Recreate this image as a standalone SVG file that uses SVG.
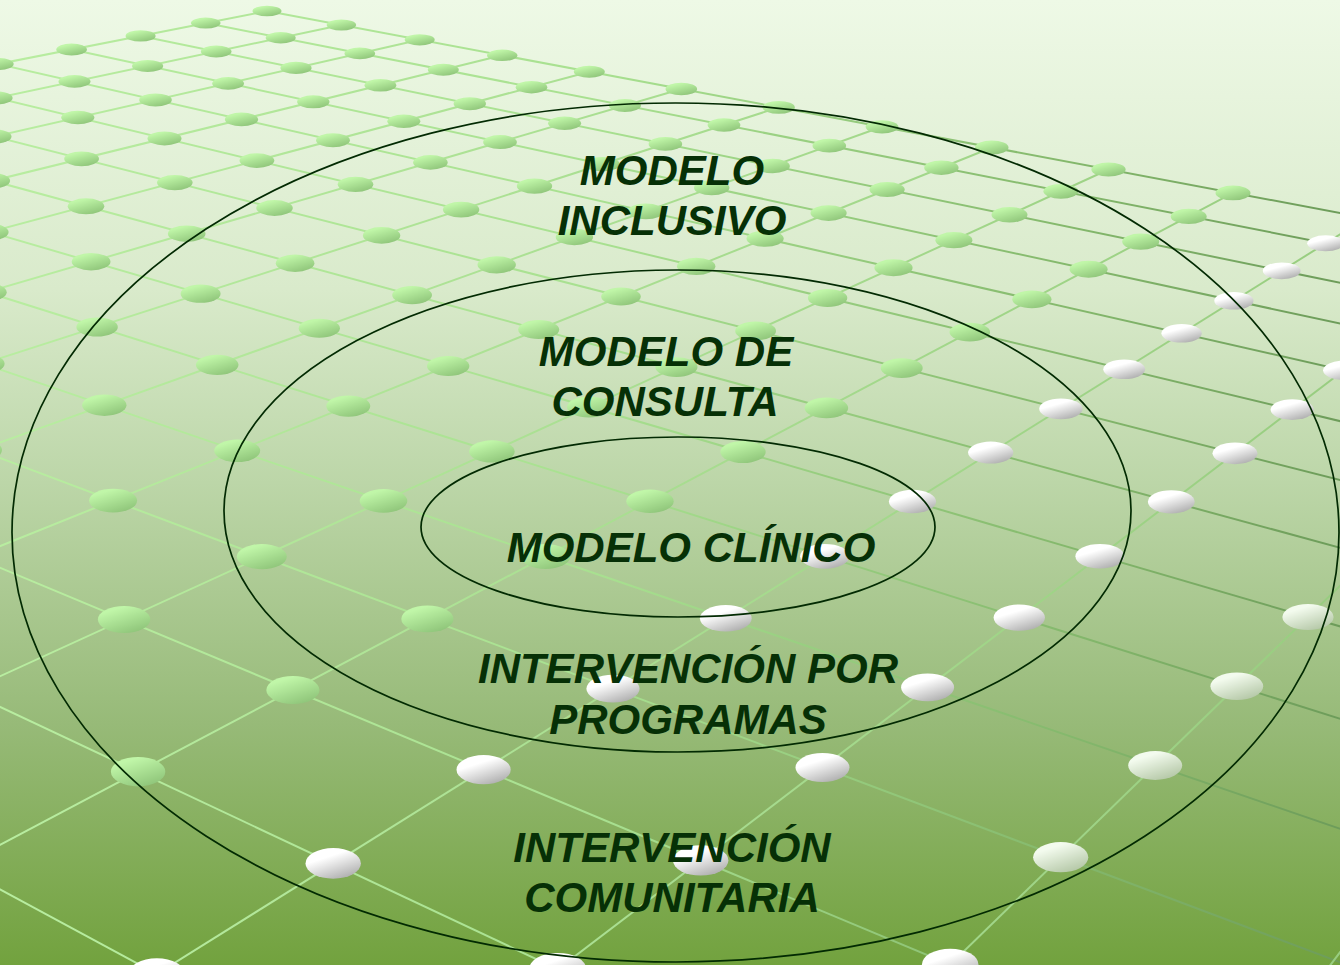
<svg xmlns="http://www.w3.org/2000/svg" width="1340" height="965" viewBox="0 0 1340 965">
<defs>
<linearGradient id="bg" x1="0" y1="0" x2="0" y2="1">
<stop offset="0" stop-color="#eef9e6"/>
<stop offset="0.3" stop-color="#d9eacb"/>
<stop offset="0.5" stop-color="#bcd6a8"/>
<stop offset="0.75" stop-color="#97ba78"/>
<stop offset="1" stop-color="#72a23e"/>
</linearGradient>
<linearGradient id="la" gradientUnits="userSpaceOnUse" x1="0" y1="0" x2="1340" y2="0">
<stop offset="0" stop-color="#b8eda0"/>
<stop offset="0.45" stop-color="#a8e090"/>
<stop offset="0.8" stop-color="#84b86c"/>
<stop offset="1" stop-color="#6d9c5a"/>
</linearGradient>
<linearGradient id="lb" gradientUnits="userSpaceOnUse" x1="0" y1="0" x2="1340" y2="0">
<stop offset="0" stop-color="#b8eda0"/>
<stop offset="1" stop-color="#98cd80"/>
</linearGradient>
<linearGradient id="dg" x1="0.2" y1="0" x2="0.8" y2="1">
<stop offset="0.15" stop-color="#c0f6a8"/>
<stop offset="1" stop-color="#8cc277"/>
</linearGradient>
<linearGradient id="dw" x1="0.2" y1="0" x2="0.8" y2="1">
<stop offset="0.3" stop-color="#ffffff"/>
<stop offset="1" stop-color="#a9a9a9"/>
</linearGradient>
<linearGradient id="dp" x1="0.2" y1="0" x2="0.8" y2="1">
<stop offset="0.2" stop-color="#f3fbee"/>
<stop offset="1" stop-color="#b0c4a2"/>
</linearGradient>
<style>
.a{stroke:url(#la);stroke-width:2;fill:none}
.b{stroke:url(#lb);stroke-width:2;fill:none}
.g{fill:url(#dg)}
.w{fill:url(#dw)}
.p{fill:url(#dp)}
.ring{fill:none;stroke:#022a02;stroke-width:1.7}
.t{font-family:"Liberation Sans",Arial,sans-serif;font-weight:bold;font-style:italic;font-size:42px;fill:#063006;text-anchor:middle}
</style>
</defs>
<rect width="1340" height="965" fill="url(#bg)"/>
<g id="connectors">
<g id="grid-lines-a">
<line class="a" x1="267" y1="11" x2="2004" y2="338"/>
<line class="a" x1="205.7" y1="23.1" x2="1987" y2="373"/>
<line class="a" x1="140.6" y1="35.9" x2="1968.7" y2="412.2"/>
<line class="a" x1="71.6" y1="49.5" x2="1948.3" y2="455"/>
<line class="a" x1="-2" y1="64" x2="1925.6" y2="502.7"/>
<line class="a" x1="-80.4" y1="79.5" x2="1900.3" y2="555.9"/>
<line class="a" x1="-164.2" y1="96" x2="1871.8" y2="615.8"/>
<line class="a" x1="-254" y1="113.7" x2="1839.4" y2="683.7"/>
<line class="a" x1="-350.5" y1="132.7" x2="1802.4" y2="761.4"/>
<line class="a" x1="-454.3" y1="153.2" x2="1759.7" y2="851"/>
<line class="a" x1="-566.5" y1="175.3" x2="1709.9" y2="955.6"/>
<line class="a" x1="-687.9" y1="199.2" x2="1651" y2="1079.3"/>
<line class="a" x1="-819.9" y1="225.3" x2="1580.3" y2="1227.8"/>
<line class="a" x1="-963.8" y1="253.6" x2="1493.8" y2="1409.4"/>
<line class="a" x1="-1121.4" y1="284.7" x2="1385.6" y2="1636.6"/>
</g>
<g id="grid-lines-b">
<line class="b" x1="267" y1="11" x2="-1699" y2="398.5"/>
<line class="b" x1="341.4" y1="25" x2="-1650.8" y2="446.1"/>
<line class="b" x1="419.7" y1="39.8" x2="-1597.5" y2="498.7"/>
<line class="b" x1="502.2" y1="55.3" x2="-1538.2" y2="557.3"/>
<line class="b" x1="589.3" y1="71.7" x2="-1471.8" y2="622.9"/>
<line class="b" x1="681.3" y1="89" x2="-1396.9" y2="696.9"/>
<line class="b" x1="778.7" y1="107.4" x2="-1311.9" y2="781"/>
<line class="b" x1="882" y1="126.8" x2="-1214.4" y2="877.3"/>
<line class="b" x1="991.8" y1="147.5" x2="-1101.5" y2="988.8"/>
<line class="b" x1="1108.5" y1="169.5" x2="-969.3" y2="1119.4"/>
<line class="b" x1="1233" y1="192.9" x2="-812.4" y2="1274.5"/>
<line class="b" x1="1366.1" y1="218" x2="-623.1" y2="1461.5"/>
<line class="b" x1="1508.6" y1="244.8" x2="-390.2" y2="1691.6"/>
<line class="b" x1="1661.5" y1="273.7" x2="-96.8" y2="1981.5"/>
<line class="b" x1="1826.2" y1="304.7" x2="284.4" y2="2358.1"/>
</g>
</g>
<g id="grid-dots">
<ellipse class="g" cx="267" cy="11" rx="14.5" ry="5.3"/>
<ellipse class="g" cx="341.4" cy="25" rx="14.7" ry="5.5"/>
<ellipse class="g" cx="419.7" cy="39.8" rx="15" ry="5.6"/>
<ellipse class="g" cx="502.2" cy="55.3" rx="15.2" ry="5.8"/>
<ellipse class="g" cx="589.3" cy="71.7" rx="15.5" ry="6"/>
<ellipse class="g" cx="681.3" cy="89" rx="15.8" ry="6.2"/>
<ellipse class="g" cx="778.7" cy="107.4" rx="16.1" ry="6.4"/>
<ellipse class="g" cx="882" cy="126.8" rx="16.4" ry="6.6"/>
<ellipse class="g" cx="991.8" cy="147.5" rx="16.7" ry="6.9"/>
<ellipse class="g" cx="1108.5" cy="169.5" rx="17.1" ry="7.1"/>
<ellipse class="g" cx="1233" cy="192.9" rx="17.5" ry="7.4"/>
<ellipse class="g" cx="205.7" cy="23.1" rx="14.8" ry="5.5"/>
<ellipse class="g" cx="280.7" cy="37.8" rx="15" ry="5.7"/>
<ellipse class="g" cx="359.8" cy="53.4" rx="15.3" ry="5.8"/>
<ellipse class="g" cx="443.3" cy="69.8" rx="15.5" ry="6"/>
<ellipse class="g" cx="531.5" cy="87.2" rx="15.8" ry="6.2"/>
<ellipse class="g" cx="624.9" cy="105.5" rx="16.1" ry="6.4"/>
<ellipse class="g" cx="724" cy="125" rx="16.4" ry="6.7"/>
<ellipse class="g" cx="829.3" cy="145.7" rx="16.8" ry="6.9"/>
<ellipse class="g" cx="941.4" cy="167.7" rx="17.2" ry="7.2"/>
<ellipse class="g" cx="1060.9" cy="191.3" rx="17.5" ry="7.4"/>
<ellipse class="g" cx="1188.7" cy="216.4" rx="18" ry="7.7"/>
<ellipse class="w" cx="1325.6" cy="243.3" rx="18.4" ry="8"/>
<ellipse class="g" cx="140.6" cy="35.9" rx="15" ry="5.7"/>
<ellipse class="g" cx="216.2" cy="51.5" rx="15.3" ry="5.9"/>
<ellipse class="g" cx="296" cy="67.9" rx="15.6" ry="6.1"/>
<ellipse class="g" cx="380.4" cy="85.3" rx="15.9" ry="6.3"/>
<ellipse class="g" cx="469.8" cy="103.7" rx="16.2" ry="6.5"/>
<ellipse class="g" cx="564.6" cy="123.2" rx="16.5" ry="6.7"/>
<ellipse class="g" cx="665.4" cy="143.9" rx="16.8" ry="6.9"/>
<ellipse class="g" cx="772.7" cy="166" rx="17.2" ry="7.2"/>
<ellipse class="g" cx="887.1" cy="189.5" rx="17.6" ry="7.5"/>
<ellipse class="g" cx="1009.5" cy="214.7" rx="18" ry="7.8"/>
<ellipse class="g" cx="1140.7" cy="241.7" rx="18.5" ry="8.1"/>
<ellipse class="w" cx="1281.7" cy="270.8" rx="18.9" ry="8.4"/>
<ellipse class="g" cx="71.6" cy="49.5" rx="15.3" ry="5.9"/>
<ellipse class="g" cx="147.6" cy="66" rx="15.6" ry="6.1"/>
<ellipse class="g" cx="228.1" cy="83.4" rx="15.9" ry="6.3"/>
<ellipse class="g" cx="313.3" cy="101.8" rx="16.2" ry="6.5"/>
<ellipse class="g" cx="403.8" cy="121.3" rx="16.5" ry="6.7"/>
<ellipse class="g" cx="500" cy="142.1" rx="16.9" ry="7"/>
<ellipse class="g" cx="602.4" cy="164.2" rx="17.3" ry="7.2"/>
<ellipse class="g" cx="711.7" cy="187.8" rx="17.7" ry="7.5"/>
<ellipse class="g" cx="828.6" cy="213.1" rx="18.1" ry="7.8"/>
<ellipse class="g" cx="953.9" cy="240.2" rx="18.5" ry="8.1"/>
<ellipse class="g" cx="1088.6" cy="269.3" rx="19" ry="8.5"/>
<ellipse class="w" cx="1233.9" cy="300.7" rx="19.6" ry="8.8"/>
<ellipse class="g" cx="-2" cy="64" rx="15.7" ry="6.1"/>
<ellipse class="g" cx="74.5" cy="81.4" rx="16" ry="6.3"/>
<ellipse class="g" cx="155.5" cy="99.9" rx="16.3" ry="6.5"/>
<ellipse class="g" cx="241.5" cy="119.4" rx="16.6" ry="6.8"/>
<ellipse class="g" cx="333" cy="140.2" rx="16.9" ry="7"/>
<ellipse class="g" cx="430.4" cy="162.4" rx="17.3" ry="7.3"/>
<ellipse class="g" cx="534.5" cy="186.1" rx="17.7" ry="7.6"/>
<ellipse class="g" cx="645.8" cy="211.4" rx="18.1" ry="7.9"/>
<ellipse class="g" cx="765.1" cy="238.6" rx="18.6" ry="8.2"/>
<ellipse class="g" cx="893.5" cy="267.8" rx="19.1" ry="8.5"/>
<ellipse class="g" cx="1031.9" cy="299.3" rx="19.6" ry="8.9"/>
<ellipse class="w" cx="1181.6" cy="333.3" rx="20.2" ry="9.3"/>
<ellipse class="w" cx="1343.9" cy="370.3" rx="20.8" ry="9.7"/>
<ellipse class="g" cx="-3.7" cy="97.9" rx="16.3" ry="6.6"/>
<ellipse class="g" cx="77.8" cy="117.5" rx="16.6" ry="6.8"/>
<ellipse class="g" cx="164.5" cy="138.4" rx="17" ry="7"/>
<ellipse class="g" cx="256.9" cy="160.6" rx="17.4" ry="7.3"/>
<ellipse class="g" cx="355.5" cy="184.3" rx="17.8" ry="7.6"/>
<ellipse class="g" cx="461.1" cy="209.7" rx="18.2" ry="7.9"/>
<ellipse class="g" cx="574.4" cy="237" rx="18.7" ry="8.2"/>
<ellipse class="g" cx="696.2" cy="266.3" rx="19.2" ry="8.6"/>
<ellipse class="g" cx="827.6" cy="297.9" rx="19.7" ry="9"/>
<ellipse class="g" cx="969.8" cy="332.1" rx="20.3" ry="9.4"/>
<ellipse class="w" cx="1124.2" cy="369.2" rx="20.9" ry="9.8"/>
<ellipse class="w" cx="1292.2" cy="409.6" rx="21.6" ry="10.3"/>
<ellipse class="g" cx="-5.6" cy="136.5" rx="17.1" ry="7.1"/>
<ellipse class="g" cx="81.6" cy="158.8" rx="17.4" ry="7.4"/>
<ellipse class="g" cx="174.8" cy="182.6" rx="17.8" ry="7.6"/>
<ellipse class="g" cx="274.5" cy="208" rx="18.3" ry="7.9"/>
<ellipse class="g" cx="381.6" cy="235.4" rx="18.7" ry="8.3"/>
<ellipse class="g" cx="496.7" cy="264.8" rx="19.2" ry="8.6"/>
<ellipse class="g" cx="621" cy="296.5" rx="19.8" ry="9"/>
<ellipse class="g" cx="755.6" cy="330.9" rx="20.4" ry="9.4"/>
<ellipse class="g" cx="901.7" cy="368.1" rx="21" ry="9.9"/>
<ellipse class="w" cx="1060.9" cy="408.8" rx="21.7" ry="10.4"/>
<ellipse class="w" cx="1235" cy="453.3" rx="22.5" ry="10.9"/>
<ellipse class="g" cx="-7.8" cy="180.8" rx="17.9" ry="7.7"/>
<ellipse class="g" cx="86" cy="206.3" rx="18.3" ry="8"/>
<ellipse class="g" cx="186.7" cy="233.7" rx="18.8" ry="8.3"/>
<ellipse class="g" cx="295.1" cy="263.2" rx="19.3" ry="8.7"/>
<ellipse class="g" cx="412.1" cy="295.1" rx="19.9" ry="9.1"/>
<ellipse class="g" cx="538.7" cy="329.6" rx="20.5" ry="9.5"/>
<ellipse class="g" cx="676.4" cy="367.1" rx="21.1" ry="9.9"/>
<ellipse class="g" cx="826.4" cy="407.9" rx="21.8" ry="10.4"/>
<ellipse class="w" cx="990.7" cy="452.6" rx="22.6" ry="11"/>
<ellipse class="w" cx="1171.3" cy="501.8" rx="23.4" ry="11.6"/>
<ellipse class="g" cx="-10.3" cy="232.1" rx="18.9" ry="8.4"/>
<ellipse class="g" cx="91.1" cy="261.7" rx="19.4" ry="8.7"/>
<ellipse class="g" cx="200.6" cy="293.7" rx="20" ry="9.1"/>
<ellipse class="g" cx="319.3" cy="328.3" rx="20.6" ry="9.5"/>
<ellipse class="g" cx="448.2" cy="366" rx="21.2" ry="10"/>
<ellipse class="g" cx="588.9" cy="407" rx="21.9" ry="10.5"/>
<ellipse class="g" cx="743" cy="452" rx="22.7" ry="11"/>
<ellipse class="w" cx="912.5" cy="501.5" rx="23.6" ry="11.7"/>
<ellipse class="w" cx="1099.9" cy="556.2" rx="24.5" ry="12.3"/>
<ellipse class="p" cx="1308" cy="617" rx="25.6" ry="13.1"/>
<ellipse class="g" cx="-13.3" cy="292.2" rx="20" ry="9.2"/>
<ellipse class="g" cx="97.1" cy="327" rx="20.7" ry="9.6"/>
<ellipse class="g" cx="217.2" cy="364.8" rx="21.3" ry="10.1"/>
<ellipse class="g" cx="348.3" cy="406.1" rx="22" ry="10.6"/>
<ellipse class="g" cx="491.9" cy="451.4" rx="22.8" ry="11.1"/>
<ellipse class="g" cx="650" cy="501.2" rx="23.7" ry="11.7"/>
<ellipse class="w" cx="824.8" cy="556.3" rx="24.7" ry="12.4"/>
<ellipse class="w" cx="1019.3" cy="617.6" rx="25.7" ry="13.2"/>
<ellipse class="p" cx="1236.8" cy="686.2" rx="26.4" ry="13.8"/>
<ellipse class="g" cx="-16.8" cy="363.7" rx="21.4" ry="10.1"/>
<ellipse class="g" cx="104.3" cy="405.2" rx="22.2" ry="10.7"/>
<ellipse class="g" cx="237.2" cy="450.8" rx="23" ry="11.2"/>
<ellipse class="g" cx="383.5" cy="500.9" rx="23.8" ry="11.8"/>
<ellipse class="g" cx="545.5" cy="556.5" rx="24.8" ry="12.5"/>
<ellipse class="w" cx="725.8" cy="618.3" rx="25.9" ry="13.3"/>
<ellipse class="w" cx="927.6" cy="687.4" rx="26.5" ry="13.9"/>
<ellipse class="p" cx="1155.2" cy="765.5" rx="27" ry="14.4"/>
<ellipse class="g" cx="-21.1" cy="450.1" rx="23.1" ry="11.3"/>
<ellipse class="g" cx="113.1" cy="500.6" rx="24" ry="11.9"/>
<ellipse class="g" cx="261.8" cy="556.6" rx="25" ry="12.6"/>
<ellipse class="g" cx="427.4" cy="618.9" rx="26.1" ry="13.4"/>
<ellipse class="w" cx="613" cy="688.7" rx="26.6" ry="13.9"/>
<ellipse class="w" cx="822.5" cy="767.5" rx="27" ry="14.5"/>
<ellipse class="p" cx="1060.7" cy="857.2" rx="27.6" ry="15.1"/>
<ellipse class="g" cx="124.1" cy="619.5" rx="26.2" ry="13.5"/>
<ellipse class="g" cx="292.9" cy="690" rx="26.6" ry="14"/>
<ellipse class="w" cx="483.6" cy="769.7" rx="27.1" ry="14.6"/>
<ellipse class="w" cx="700.7" cy="860.4" rx="27.7" ry="15.2"/>
<ellipse class="w" cx="950.2" cy="964.6" rx="28.3" ry="15.9"/>
<ellipse class="g" cx="138.1" cy="771.7" rx="27.2" ry="14.7"/>
<ellipse class="w" cx="333.2" cy="863.4" rx="27.7" ry="15.3"/>
<ellipse class="w" cx="557.7" cy="968.9" rx="28.4" ry="16"/>
<ellipse class="w" cx="156.8" cy="974.5" rx="28.5" ry="16.2"/>
</g>
<g id="ring-inclusivo">
<ellipse class="ring" cx="675.5" cy="532.5" rx="663.5" ry="429.5"/>
<text class="t" x="672" y="185">MODELO</text>
<text class="t" x="672" y="235">INCLUSIVO</text>
</g>
<g id="ring-consulta">
<ellipse class="ring" cx="677.5" cy="511" rx="453.5" ry="241"/>
<text class="t" x="666" y="366">MODELO DE</text>
<text class="t" x="665" y="416">CONSULTA</text>
</g>
<g id="ring-clinico">
<ellipse class="ring" cx="678" cy="527" rx="257" ry="90"/>
<text class="t" x="691" y="562">MODELO CLÍNICO</text>
</g>
<g id="label-programas">
<text class="t" x="688" y="683">INTERVENCIÓN POR</text>
<text class="t" x="688" y="734">PROGRAMAS</text>
</g>
<g id="label-comunitaria">
<text class="t" x="672" y="862">INTERVENCIÓN</text>
<text class="t" x="672" y="912">COMUNITARIA</text>
</g>
</svg>
